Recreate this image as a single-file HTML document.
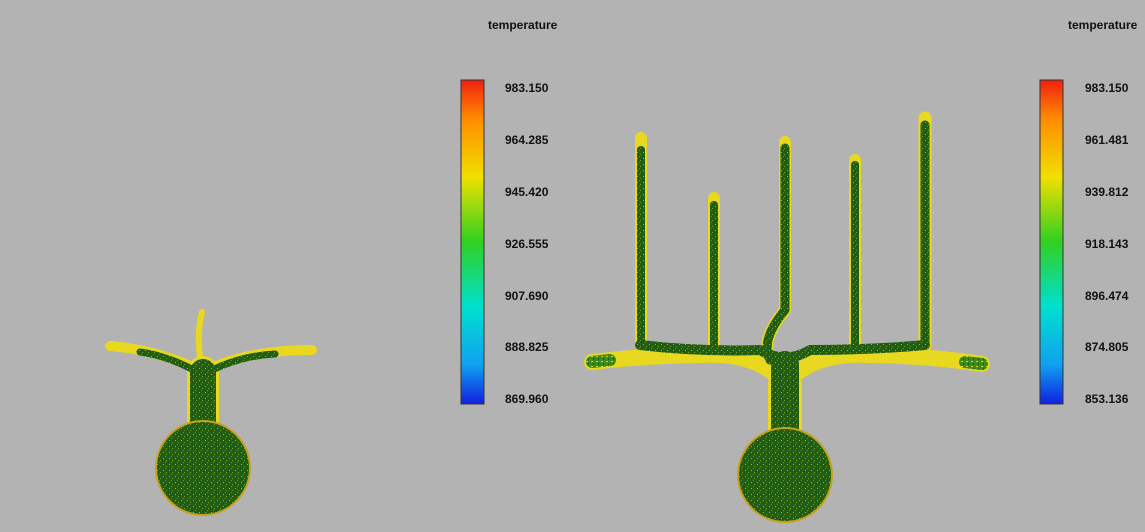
<!DOCTYPE html>
<html><head><style>
html,body{margin:0;padding:0;background:#b3b3b3;}
svg{display:block}
text{font-family:"Liberation Sans",sans-serif;font-size:12px;font-weight:bold;fill:#111}
</style></head><body>
<svg width="1145" height="532" viewBox="0 0 1145 532">
<defs>
<linearGradient id="cb" x1="0" y1="0" x2="0" y2="1">
<stop offset="0" stop-color="#f02010"/>
<stop offset="0.12" stop-color="#ff8c00"/>
<stop offset="0.3" stop-color="#f0e000"/>
<stop offset="0.5" stop-color="#30d020"/>
<stop offset="0.7" stop-color="#00e0d0"/>
<stop offset="0.88" stop-color="#10a0f0"/>
<stop offset="1" stop-color="#1020e0"/>
</linearGradient>
<pattern id="sp" width="6" height="6" patternUnits="userSpaceOnUse">
<rect width="6" height="6" fill="#1f5e14"/>
<rect x="1" y="2" width="1" height="1" fill="#a8b030"/>
<rect x="4" y="4" width="1" height="1" fill="#7a9a20"/>
<rect x="3" y="0" width="1" height="1" fill="#6c8f1c"/>
</pattern>
<pattern id="sp2" width="5" height="5" patternUnits="userSpaceOnUse">
<rect width="5" height="5" fill="#3f8a1c"/>
<rect x="1" y="1" width="2" height="1" fill="#c8d820"/>
<rect x="3" y="3" width="1" height="2" fill="#1f5e14"/>
</pattern>
</defs>
<rect width="1145" height="532" fill="#b3b3b3"/>

<!-- left casting -->
<g stroke="#e8d820" stroke-linecap="round" stroke-linejoin="round" fill="none">
<path d="M110,346 Q160,350 203,372 Q245,350 312,350" stroke-width="10"/>
<path d="M203,372 Q195,340 202,312" stroke-width="6"/>
<path d="M203,372 L203,440" stroke-width="32"/>
</g>
<g stroke="url(#sp)" stroke-linecap="round" stroke-linejoin="round" fill="none">
<path d="M140,352 Q170,356 203,375 Q236,356 275,354" stroke-width="7"/>
<path d="M203,372 L203,440" stroke-width="26"/>
</g>
<circle cx="203" cy="468" r="48" fill="#c8a020"/>
<circle cx="203" cy="468" r="46" fill="url(#sp)"/>

<!-- right casting -->
<g stroke="#e8d820" stroke-linecap="round" stroke-linejoin="round" fill="none">
<path d="M592,362 Q640,356 700,355 Q760,352 785,385 Q810,352 870,355 Q930,356 982,364" stroke-width="16"/>
<path d="M641,345 L641,138" stroke-width="12"/>
<path d="M714,345 L714,198" stroke-width="12"/>
<path d="M855,345 L855,160" stroke-width="12"/>
<path d="M925,345 L925,118" stroke-width="13"/>
<path d="M770,360 Q760,340 785,310 L785,142" stroke-width="12"/>
<path d="M785,385 L785,440" stroke-width="34"/>
</g>
<g stroke="url(#sp2)" stroke-linecap="round" fill="none">
<path d="M592,362 L610,360" stroke-width="12"/>
<path d="M965,362 L982,364" stroke-width="12"/>
</g>
<g stroke="url(#sp)" stroke-linecap="round" stroke-linejoin="round" fill="none">
<path d="M640,345 Q700,352 760,350 Q785,365 810,350 Q870,350 925,345" stroke-width="10"/>
<path d="M641,345 L641,150" stroke-width="8"/>
<path d="M714,345 L714,205" stroke-width="8"/>
<path d="M855,345 L855,165" stroke-width="8"/>
<path d="M925,345 L925,125" stroke-width="9"/>
<path d="M770,360 Q760,340 785,310 L785,148" stroke-width="9"/>
<path d="M785,365 L785,440" stroke-width="28"/>
</g>
<circle cx="785" cy="475" r="48" fill="#c8a020"/>
<circle cx="785" cy="475" r="46" fill="url(#sp)"/>

<!-- colorbars -->
<rect x="461" y="80" width="23" height="324" fill="url(#cb)" stroke="#333" stroke-width="1"/>
<rect x="1040" y="80" width="23" height="324" fill="url(#cb)" stroke="#333" stroke-width="1"/>
<text x="488" y="29">temperature</text>
<text x="1068" y="29">temperature</text>
<g>
<text x="505" y="92">983.150</text><text x="505" y="144">964.285</text><text x="505" y="196">945.420</text><text x="505" y="248">926.555</text><text x="505" y="300">907.690</text><text x="505" y="351">888.825</text><text x="505" y="403">869.960</text>
<text x="1085" y="92">983.150</text><text x="1085" y="144">961.481</text><text x="1085" y="196">939.812</text><text x="1085" y="248">918.143</text><text x="1085" y="300">896.474</text><text x="1085" y="351">874.805</text><text x="1085" y="403">853.136</text>
</g>
</svg>
</body></html>
